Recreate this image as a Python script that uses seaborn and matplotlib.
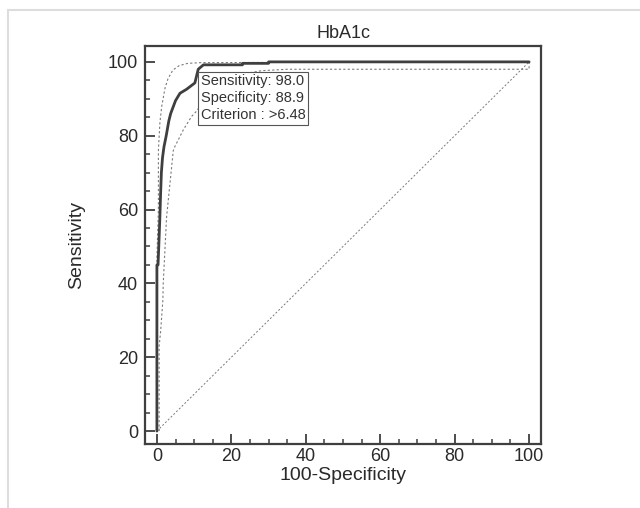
import matplotlib
matplotlib.use('Agg')

import matplotlib.pyplot as plt
import numpy as np
import pandas as pd
import seaborn as sns
from matplotlib.lines import Line2D
from matplotlib.ticker import MultipleLocator


# ROC curve for HbA1c (100-Specificity vs Sensitivity)
roc_fpr = [0, 0, 0.3, 0.5, 0.8, 1.0, 1.2, 1.5, 1.9, 2.5, 3.2, 3.7, 5.0, 6.2, 8.0,
           10.2, 11.1, 12.5, 23, 23, 30, 30, 100]
roc_tpr = [0, 45, 45, 50, 58, 64.5, 70, 74, 77, 80, 84, 86, 89.5, 91.5, 92.6,
           94.3, 98.0, 99.2, 99.2, 99.6, 99.6, 100, 100]

# upper confidence band
upper_fpr = [0, 0, 0.4, 0.4, 0.8, 1.3, 2.2, 3.0, 4.3, 6.0, 8.3, 12, 100]
upper_tpr = [0, 47, 60, 76, 83.5, 88, 93, 95.5, 97.8, 99.0, 99.6, 99.8, 100]

# lower confidence band
lower_fpr = [0.6, 0.6, 1.0, 1.6, 1.7, 2.6, 3.5, 4.4, 4.8, 7.1, 9.3, 10.6, 13, 17,
             22, 28, 35, 100, 100]
lower_tpr = [0, 23, 27, 35.5, 40, 58, 67, 76, 77, 81.6, 85.2, 86.6, 90, 94,
             96.5, 97.6, 98, 98, 100]

# reference diagonal
diag_x = [0, 100]
diag_y = [0, 100]

crit_sens = 98.0
crit_spec = 88.9
crit_value = '>6.48'

sns.set_style('white')
plt.rcParams['font.family'] = ['Liberation Sans', 'DejaVu Sans']

fig = plt.figure(figsize=(6.4, 5.08), dpi=100)
ax = fig.add_axes([145 / 640, 1 - 444 / 508, 396 / 640, 398 / 508])

dark = '#3f3f3f'
band = '#7a7a7a'
txt = '#2a2a2a'

sns.lineplot(x=diag_x, y=diag_y, sort=False, estimator=None, ax=ax,
             color=band, linewidth=0.7, linestyle=(0, (2, 2)))
sns.lineplot(x=upper_fpr, y=upper_tpr, sort=False, estimator=None, ax=ax,
             color=band, linewidth=0.8, linestyle=(0, (2, 2)))
sns.lineplot(x=lower_fpr, y=lower_tpr, sort=False, estimator=None, ax=ax,
             color=band, linewidth=0.8, linestyle=(0, (2, 2)))
sns.lineplot(x=roc_fpr, y=roc_tpr, sort=False, estimator=None, ax=ax,
             color=dark, linewidth=2.0)

ax.text(11.8, 96.6,
        f'Sensitivity: {crit_sens:.1f}\nSpecificity: {crit_spec:.1f}\nCriterion : {crit_value}',
        fontsize=10.5, color='#333333', va='top', ha='left', linespacing=1.25,
        bbox=dict(boxstyle='square,pad=0.18', facecolor='white', edgecolor='#555555', linewidth=0.8),
        zorder=10)

ax.set_xlim(-3.2, 103.2)
ax.set_ylim(-3.5, 104.3)
ax.xaxis.set_major_locator(MultipleLocator(20))
ax.xaxis.set_minor_locator(MultipleLocator(5))
ax.yaxis.set_major_locator(MultipleLocator(20))
ax.yaxis.set_minor_locator(MultipleLocator(5))
ax.tick_params(which='major', direction='in', length=7, width=1.3, color=dark,
               labelsize=13, labelcolor=txt, pad=5)
ax.tick_params(axis='x', which='major', pad=3)
ax.tick_params(which='minor', direction='in', length=3.5, width=1.1, color=dark)
ax.tick_params(axis='x', which='both', bottom=True, top=False)
ax.tick_params(axis='y', which='both', left=True, right=False)
for s in ax.spines.values():
    s.set_color(dark)
    s.set_linewidth(1.6)

ax.set_title('HbA1c', fontsize=13, color=txt, pad=6)
ax.set_xlabel('100-Specificity', fontsize=14, color=txt, labelpad=1)
ax.set_ylabel('Sensitivity', fontsize=14, color=txt, labelpad=16)

# light frame around the panel
fig.add_artist(Line2D([8 / 640, 8 / 640], [0, 1 - 10 / 508], transform=fig.transFigure,
                      color='#dddddd', linewidth=1.5))
fig.add_artist(Line2D([8 / 640, 1], [1 - 10 / 508, 1 - 10 / 508], transform=fig.transFigure,
                      color='#dddddd', linewidth=1.5))

fig.savefig('out.png', dpi=100)
plt.close(fig)
